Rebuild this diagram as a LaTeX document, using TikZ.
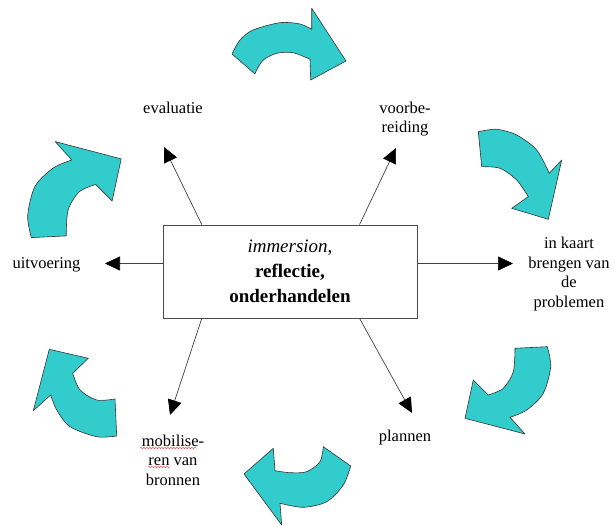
\documentclass[tikz,border=0pt]{standalone}
\usepackage{fontspec}
\setmainfont{Liberation Serif}
\usetikzlibrary{arrows.meta,decorations.pathmorphing}
\definecolor{turq}{HTML}{33CCCC}
\begin{document}
\begin{tikzpicture}[x=1pt, y=-1pt,
            box/.style={rectangle, draw=black!70, line width=0.8pt, minimum width=254pt, minimum height=93pt, align=center, font=\fontsize{19}{25}\selectfont},
            lbl/.style={align=center, font=\fontsize{16.5}{19.5}\selectfont},
            spoke/.style={draw=black!75, line width=0.7pt, -{Triangle[length=15pt,width=14pt,color=black]}},
            turn/.style={fill=turq, draw=black!80, line width=0.6pt, line join=round},
            squig/.style={red!80, line width=0.4pt, decorate, decoration={snake, amplitude=0.8pt, segment length=3pt}}]

        \useasboundingbox (0,0) rectangle (614,527);

        \node[box] (box) at (290,271.5) {\textit{immersion},\\ \textbf{reflectie,}\\ \textbf{onderhandelen}};

        \node[lbl] (eval) at (173,108) {evaluatie};
        \node[lbl] (prep) at (405,119) {voorbe-\\reiding};
        \node[lbl] (exec) at (46.5,264.5) {uitvoering};
        \node[lbl] (map) at (569,274) {in kaart\\brengen van\\de\\problemen};
        \node[lbl] (plan) at (405,438) {plannen};
        \node[lbl] (mob) at (173,460) {mobilise-\\ren van\\bronnen};

        \coordinate (eval tip) at (164,147);
        \coordinate (prep tip) at (396,148);
        \coordinate (exec tip) at (105,263.5);
        \coordinate (map tip) at (513,263.5);
        \coordinate (plan tip) at (412,413);
        \coordinate (mob tip) at (170,415);

        \draw[spoke] (box.152) -- (eval tip);
        \draw[spoke] (box.34) -- (prep tip);
        \draw[spoke] (box.west |- exec tip) -- (exec tip);
        \draw[spoke] (box.east |- map tip) -- (map tip);
        \draw[spoke] (box.326.4) -- (plan tip);
        \draw[spoke] (box.208.7) -- (mob tip);

        \draw[squig] (140,448) -- (197,448);
        \draw[squig] (148,467) -- (170,467);

        \filldraw[turn] plot[smooth] coordinates {(232,54) (240,40) (253,30) (280,22.7) (300,24) (311.7,29.3)} -- (311.7,8.3) -- (346,61) -- (310.7,80)
            -- plot[smooth] coordinates {(310,59.3) (293,52.7) (276.7,53.3) (263.3,60) (256.7,70) (255,74)} -- cycle;
        \filldraw[turn] plot[smooth] coordinates {(478.3,131.7) (496.7,129.3) (516.7,135) (536.7,150) (549.3,173.3)} -- (561.7,160) -- (548.3,219.3) -- (511.7,208.3)
            -- plot[smooth] coordinates {(528.3,196.7) (516.7,180) (500,168.3) (481.7,166.7)} -- cycle;
        \filldraw[turn] plot[smooth] coordinates {(547.3,346.7) (550.7,366.7) (543.3,393.3) (526.7,410) (510,417.3)} -- (525,434) -- (465,418.3) -- (473.3,380)
            -- plot[smooth] coordinates {(488.3,395) (503.3,388.3) (513.3,371.7) (515,348.3)} -- cycle;
        \filldraw[turn] plot[smooth] coordinates {(350.7,466) (343.3,485) (326.7,501.7) (303.3,507.3) (280,503.3)} -- (281.7,525) -- (244,474) -- (273.3,448.3)
            -- plot[smooth] coordinates {(275,470.7) (290,472.7) (306.7,471.7) (320,461.7) (323.3,446.7)} -- cycle;
        \filldraw[turn] plot[smooth] coordinates {(116.7,436) (96.7,436.7) (70,426.7) (56.7,410) (50.7,395)} -- (33.3,410.7) -- (49.3,349.3) -- (88.3,358.3)
            -- plot[smooth] coordinates {(72.7,373.3) (80,390) (96.7,400) (115,399)} -- cycle;
        \filldraw[turn] plot[smooth] coordinates {(31.3,237.6) (27.7,215.6) (35,186.4) (53.3,168) (71.7,160)} -- (55.2,141.6) -- (121.2,158.9) -- (112.1,201)
            -- plot[smooth] coordinates {(95.6,184.5) (79.1,191.9) (68.1,210.1) (66.2,235.9)} -- cycle;
    \end{tikzpicture}
\end{document}
